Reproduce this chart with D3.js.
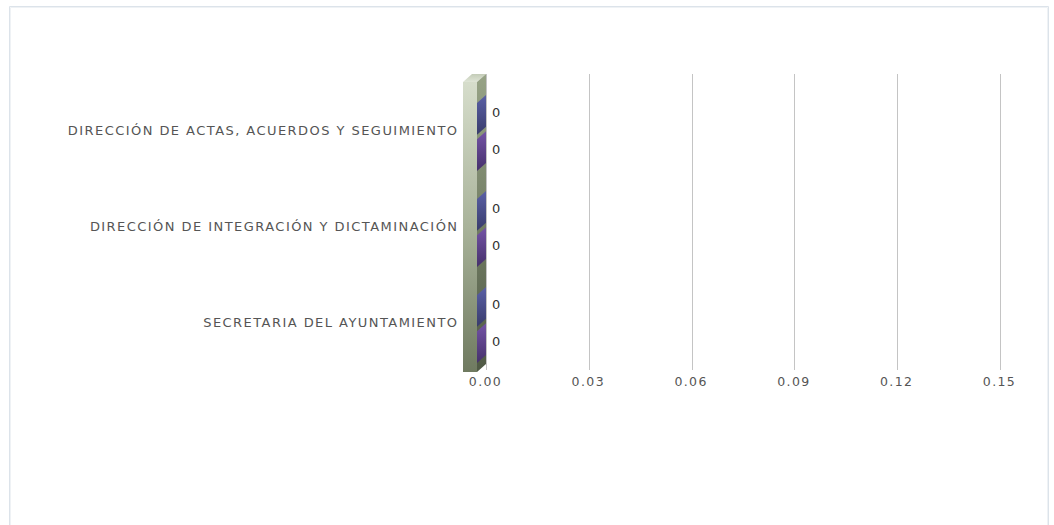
<!DOCTYPE html>
<html><head><meta charset="utf-8">
<script src="https://cdn.jsdelivr.net/npm/d3@7"></script>
<style>body{margin:0;background:#fff}svg{display:block}</style>
</head><body>
<svg id="c" width="1054" height="525"></svg>
<script>
const categories = ["DIRECCIÓN DE ACTAS, ACUERDOS Y SEGUIMIENTO","DIRECCIÓN DE INTEGRACIÓN Y DICTAMINACIÓN","SECRETARIA DEL AYUNTAMIENTO"];
const seriesNames = ["Serie 1","Serie 2"];
const seriesA = [0,0,0];
const seriesB = [0,0,0];
const tickValues = [0,0.03,0.06,0.09,0.12,0.15];
const tickLabels = ["0.00","0.03","0.06","0.09","0.12","0.15"];

const FONT = "DejaVu Sans, Verdana, sans-serif";
const svg = d3.select("#c");
const defs = svg.append("defs");
function grad(id, stops){
  const g = defs.append("linearGradient").attr("id",id).attr("x1",0).attr("y1",0).attr("x2",0).attr("y2",1);
  stops.forEach(s=>g.append("stop").attr("offset",s[0]).attr("stop-color",s[1]));
}
grad("wallFront",[[0,"#d6ddcb"],[0.5,"#a9b39a"],[1,"#6f7a60"]]);
grad("wallSide",[[0,"#97a386"],[1,"#4f5944"]]);
grad("wallTop",[[0,"#c4ccb8"],[1,"#dfe5d6"]]);
grad("blueG",[[0,"#5a60a6"],[1,"#383b6b"]]);
grad("purpG",[[0,"#7454a6"],[1,"#45306b"]]);

// frame
svg.append("path").attr("d","M9.5,525 V6.5 H1048.5 V525").attr("fill","none").attr("stroke","#dce3ea").attr("stroke-width",1);
svg.append("path").attr("d","M10.5,525 V7.5 H1047.5 V525").attr("fill","none").attr("stroke","#eff2f5").attr("stroke-width",1);

const dx = 9, dy = 8;
const x = d3.scaleLinear().domain([0,0.15]).range([486,1000]);
const y = d3.scaleBand().domain(categories).range([82,370]);

// gridlines + axis labels
const gx = svg.append("g").attr("transform","translate(0,370)")
  .call(d3.axisBottom(x).tickValues(tickValues).tickFormat((d,i)=>tickLabels[i]).tickSize(-296).tickPadding(7));
gx.select(".domain").remove();
gx.selectAll(".tick line").attr("stroke","#c4c4c4").attr("shape-rendering","crispEdges");
gx.selectAll(".tick text").attr("fill","#555").attr("font-family",FONT).attr("font-size","12.5px")
  .attr("letter-spacing","1.4px").attr("dx",-1);

// 3D wall
const x0f = x(0) - dx, wl = x0f - 14;
const yt = y.range()[0], yb = y.range()[1] + 2;
svg.append("path").attr("d",`M${wl},${yt} L${x0f},${yt} L${x0f+dx},${yt-dy} L${wl+dx},${yt-dy} Z`).attr("fill","url(#wallTop)");
svg.append("path").attr("d",`M${x0f},${yt} L${x0f+dx},${yt-dy} L${x0f+dx},${yb-dy} L${x0f},${yb} Z`).attr("fill","url(#wallSide)");
svg.append("rect").attr("x",wl).attr("y",yt).attr("width",x0f-wl).attr("height",yb-yt).attr("fill","url(#wallFront)");

// category labels
svg.append("g").selectAll("text").data(categories).join("text")
  .attr("x",458.5).attr("y",d=>y(d)+y.bandwidth()/2).attr("dy","0.35em")
  .attr("text-anchor","end").attr("fill","#555")
  .attr("font-family",FONT).attr("font-size","13px").attr("letter-spacing","1.45px")
  .text(d=>d);

// bars (zero values -> only the 3D end face visible)
const inner = d3.scaleBand().domain(seriesNames).range([-35,33]).paddingInner(0.12);
const fills = ["url(#blueG)","url(#purpG)"];
const rows = [];
categories.forEach((c,i)=>{
  rows.push({c, s:seriesNames[0], v:seriesA[i], f:fills[0]});
  rows.push({c, s:seriesNames[1], v:seriesB[i], f:fills[1]});
});
const bars = svg.append("g");
rows.forEach(r=>{
  const cy = y(r.c)+y.bandwidth()/2;
  const top = cy + inner(r.s), h = inner.bandwidth();
  const xe = x(r.v);
  const xf = xe - dx;
  bars.append("path")
    .attr("d",`M${xf},${top+dy} L${xe},${top} L${xe},${top+h} L${xf},${top+h+dy} Z`)
    .attr("fill",r.f);
  bars.append("text").attr("x",xe+6).attr("y",top+h/2+2).attr("dy","0.35em")
    .attr("fill","#333").attr("font-family",FONT).attr("font-size","13px")
    .text(r.v);
});
</script>
</body></html>
